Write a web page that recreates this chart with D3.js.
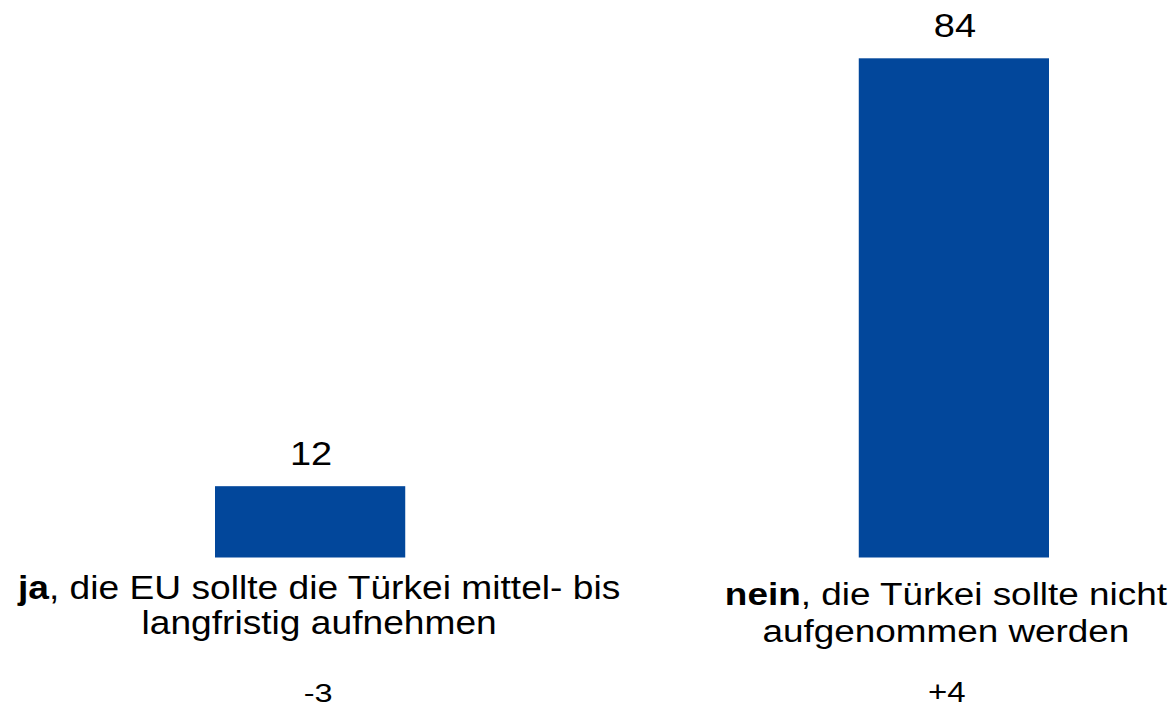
<!DOCTYPE html>
<html>
<head>
<meta charset="utf-8">
<script src="https://cdn.jsdelivr.net/npm/d3@7"></script>
<style>
  body { margin: 0; background: #fff; }
  svg { display: block; }
</style>
</head>
<body>
<svg width="1176" height="707"></svg>
<script>
const width = 1176;
const height = 707;

// data
const keys = ["ja", "nein"];
const bold_parts = ["ja", "nein"];
const line1_rest = [", die EU sollte die Türkei mittel- bis", ", die Türkei sollte nicht"];
const line2 = ["langfristig aufnehmen", "aufgenommen werden"];
const values = [12, 84];
const changes = ["-3", "+4"];

const bar_color = "#02479b";
const font = "'Liberation Sans', Arial, sans-serif";

// per-category text styles (the original text is stretched sideways a bit)
const label_size = [34, 31];
const label_sx = [1.093, 1.19];
const label_y = [599, 605];
const line_gap = [35, 37];
const label_dx = [9, -8];
const change_size = [26, 30];
const change_sx = [1.25, 1.1];
const change_y = [701.5, 702];
const change_dx = [8, -7];
const value_size = 33;
const value_sx = 1.15;

let svg = d3.select("svg");

let x = d3.scaleBand()
  .domain(keys)
  .range([215, 1049])
  .paddingInner(0.7045)
  .paddingOuter(0);

let y = d3.scaleLinear()
  .domain([0, 84])
  .range([557.5, 58.3]);

function StretchText(g, cx, cy, sx, size) {
  return g.append("text")
    .attr("transform", `translate(${cx},${cy}) scale(${sx},1)`)
    .attr("text-anchor", "middle")
    .style("font-family", font)
    .style("font-size", size + "px")
    .attr("fill", "black");
}

// bars
svg.append("g")
  .selectAll("rect")
  .data(keys)
  .enter()
  .append("rect")
  .attr("x", d => x(d))
  .attr("y", (d, i) => y(values[i]))
  .attr("width", x.bandwidth())
  .attr("height", (d, i) => y(0) - y(values[i]))
  .attr("fill", bar_color);

let labels = svg.append("g");

keys.forEach(function (d, i) {
  let mid = x(d) + x.bandwidth() / 2;

  // value above the bar
  StretchText(labels, mid + 1, y(values[i]) - 21, value_sx, value_size)
    .text(values[i]);

  // category label, two lines
  let t = StretchText(labels, mid + label_dx[i], label_y[i], label_sx[i], label_size[i]);
  t.append("tspan").style("font-weight", "bold").text(bold_parts[i]);
  t.append("tspan").text(line1_rest[i]);

  StretchText(labels, mid + label_dx[i], label_y[i] + line_gap[i], label_sx[i], label_size[i])
    .text(line2[i]);

  // change vs. previous survey
  StretchText(labels, mid + change_dx[i], change_y[i], change_sx[i], change_size[i])
    .text(changes[i]);
});
</script>
</body>
</html>
